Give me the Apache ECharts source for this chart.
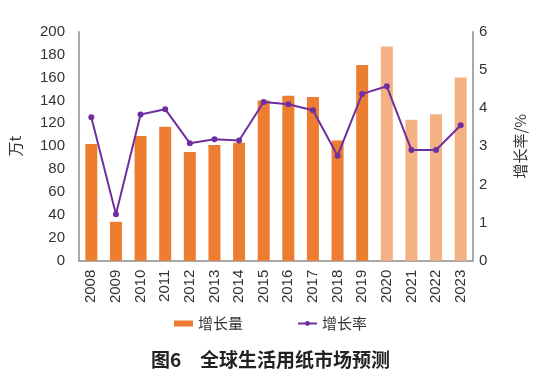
<!DOCTYPE html>
<html><head><meta charset="utf-8">
<script src="https://cdn.jsdelivr.net/npm/echarts@6/dist/echarts.min.js"></script>
<style>html,body{margin:0;padding:0;background:#fff}#c{width:541px;height:380px}</style>
</head><body><div id="c"></div>
<script>
const categories = ['2008','2009','2010','2011','2012','2013','2014','2015','2016','2017','2018','2019','2020','2021','2022','2023'];
const growthAmount = [102, 34, 109, 117, 95, 101, 103, 140, 144, 143, 105, 171, 187, 123, 128, 160];
const growthRate = [3.76, 1.22, 3.83, 3.97, 3.08, 3.18, 3.15, 4.16, 4.10, 3.94, 2.75, 4.37, 4.57, 2.90, 2.90, 3.55];
const forecastFrom = '2020';
const leftTicks = [0, 200, 20];
const rightTicks = [0, 6, 1];

const numFont = 'Liberation Sans';
const cjkFont = 'Noto Sans CJK SC';
const dark = '#ED7D31', light = '#F4B183', purple = '#6F2F9F';
const fIdx = categories.indexOf(forecastFrom);

const chart = echarts.init(document.getElementById('c'));
chart.setOption({
  animation: false,
  title: {
    text: '图6　全球生活用纸市场预测',
    left: 'center', top: 345,
    textStyle: { fontFamily: cjkFont, fontSize: 19, fontWeight: 'bold', color: '#222' }
  },
  legend: {
    top: 311, left: 'center', itemGap: 54,
    textStyle: { fontFamily: cjkFont, fontSize: 15, color: '#333' },
    data: [
      { name: '增长量', icon: 'rect', itemStyle: { color: dark } },
      { name: '增长率' }
    ],
    itemWidth: 19, itemHeight: 6
  },
  grid: { left: 78, right: 68, top: 31.7, bottom: 119.3, containLabel: false },
  xAxis: {
    type: 'category', data: categories,
    axisLine: { lineStyle: { color: '#8c8c8c', width: 1.5 } },
    axisTick: { show: false },
    axisLabel: { rotate: 90, fontFamily: numFont, fontSize: 15, color: '#333', margin: 9 }
  },
  yAxis: [
    {
      type: 'value', min: leftTicks[0], max: leftTicks[1], interval: leftTicks[2],
      name: '万t', nameLocation: 'middle', nameRotate: 90, nameGap: 56,
      nameTextStyle: { fontFamily: cjkFont, fontSize: 15, color: '#333' },
      axisLine: { show: true, lineStyle: { color: '#8c8c8c', width: 1.5 } },
      axisTick: { show: false }, splitLine: { show: false },
      axisLabel: { fontFamily: numFont, fontSize: 15, color: '#333', margin: 14 }
    },
    {
      type: 'value', min: rightTicks[0], max: rightTicks[1], interval: rightTicks[2],
      name: '增长率/%', nameLocation: 'middle', nameRotate: 90, nameGap: 40,
      nameTextStyle: { fontFamily: cjkFont, fontSize: 15, color: '#333' },
      axisLine: { show: true, lineStyle: { color: '#8c8c8c', width: 1.5 } },
      axisTick: { show: false }, splitLine: { show: false },
      axisLabel: { fontFamily: numFont, fontSize: 15, color: '#333', margin: 6 }
    }
  ],
  series: [
    {
      name: '增长量', type: 'bar', barWidth: 12,
      itemStyle: { color: dark },
      data: growthAmount.map((v, i) => ({ value: v, itemStyle: { color: i >= fIdx ? light : dark } }))
    },
    {
      name: '增长率', type: 'line', yAxisIndex: 1,
      symbol: 'circle', symbolSize: 6,
      lineStyle: { color: purple, width: 2 }, itemStyle: { color: purple },
      data: growthRate
    }
  ]
});
</script></body></html>
